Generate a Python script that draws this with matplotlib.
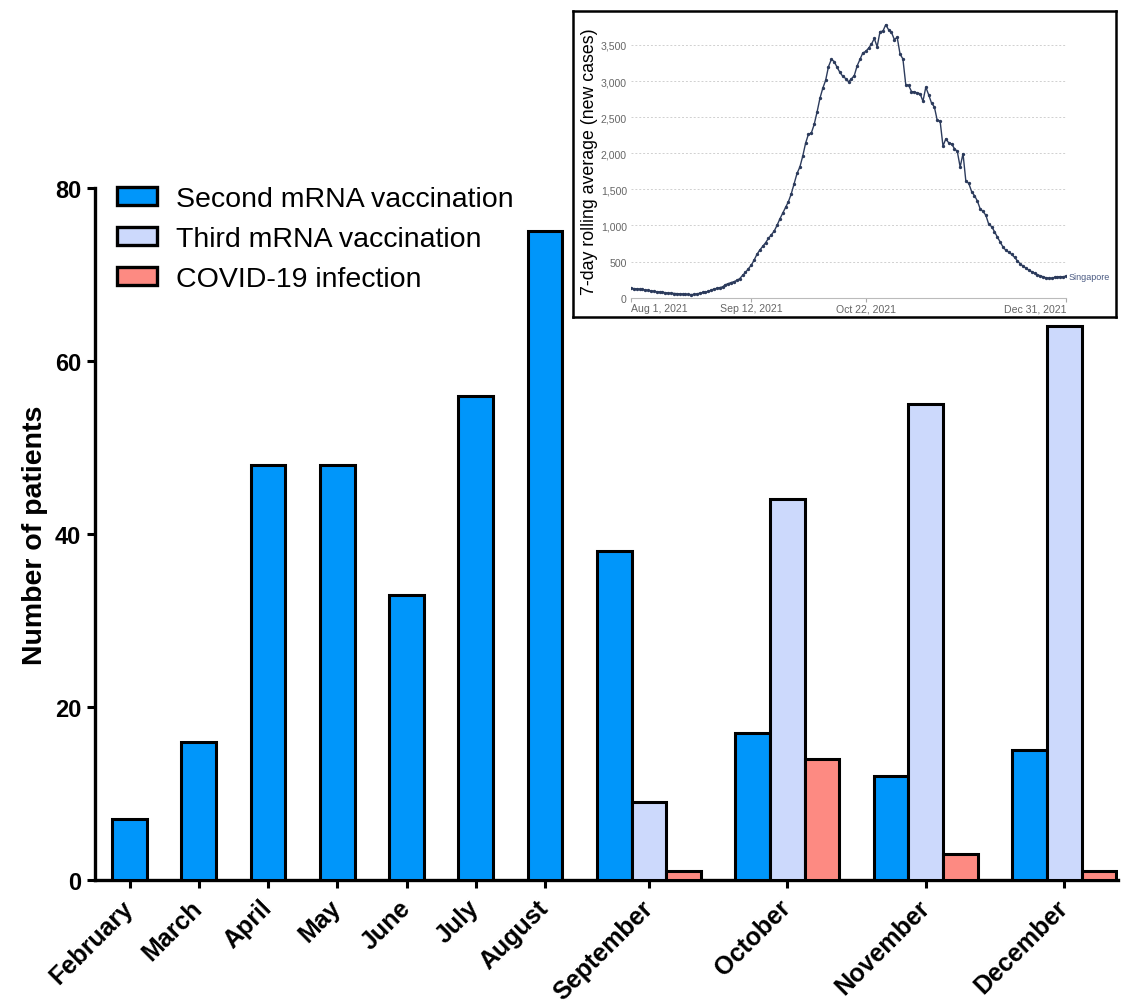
import numpy as np
import matplotlib.pyplot as plt

# main chart data
months = ["February", "March", "April", "May", "June", "July", "August",
          "September", "October", "November", "December"]
second_dose = [7, 16, 48, 48, 33, 56, 75, 38, 17, 12, 15]
# third dose and infections only counted from September on
third_dose = [9, 44, 55, 64]
infection = [1, 14, 3, 1]

# inset: Singapore 7-day rolling average, Aug 1 - Dec 31 2021 (daily)
cases = [130, 127, 123, 118, 114, 108, 101, 95, 88, 83,
         80, 75, 70, 65, 62, 58, 55, 52, 50, 47,
         45, 43, 45, 52, 62, 72, 80, 86, 105, 120,
         130, 140, 150, 180, 195, 210, 222, 240, 265, 310,
         350, 400, 450, 520, 600, 660, 710, 760, 820, 870,
         920, 1000, 1090, 1170, 1250, 1330, 1440, 1580, 1720, 1810,
         1960, 2140, 2265, 2280, 2400, 2570, 2760, 2900, 3010, 3200,
         3300, 3270, 3190, 3120, 3065, 3035, 2990, 3030, 3075, 3210,
         3300, 3390, 3410, 3455, 3510, 3590, 3475, 3685, 3690, 3780,
         3710, 3675, 3575, 3605, 3375, 3305, 2950, 2940, 2855, 2850,
         2835, 2825, 2720, 2915, 2810, 2695, 2640, 2455, 2445, 2100,
         2200, 2145, 2130, 2065, 2025, 1810, 1995, 1610, 1585, 1470,
         1415, 1340, 1230, 1195, 1140, 1015, 985, 915, 840, 770,
         700, 655, 630, 600, 560, 510, 470, 435, 410, 380,
         360, 340, 318, 304, 290, 276, 271, 270, 282, 290,
         292, 290, 300]
date_ticks = [0, 42, 82, 152]
date_labels = ["Aug 1, 2021", "Sep 12, 2021", "Oct 22, 2021", "Dec 31, 2021"]

FONT = ["Liberation Sans", "DejaVu Sans"]
plt.rcParams['font.family'] = FONT

c_second = "#0096fa"
c_third = "#ccd9fc"
c_inf = "#fd8a82"
lw = 2.2

fig = plt.figure(figsize=(11.25, 10.03), dpi=100)
ax = fig.add_axes([0.0844, 0.1216, 0.9093, 0.6899])

n_single = 7
n_group = len(months) - n_single
x_single = np.arange(n_single) * 2
x_group = 2 * n_single + np.arange(n_group) * 4
x_second = np.concatenate([x_single, x_group])

ax.bar(x_second, second_dose, width=1.0, color=c_second, edgecolor="black",
       linewidth=lw, label="Second mRNA vaccination", zorder=3)
ax.bar(x_group + 1, third_dose, width=1.0, color=c_third, edgecolor="black",
       linewidth=lw, label="Third mRNA vaccination", zorder=3)
ax.bar(x_group + 2, infection, width=1.0, color=c_inf, edgecolor="black",
       linewidth=lw, label="COVID-19 infection", zorder=3)

ax.set_xlim(-1.0, 28.55)
ax.set_ylim(0, 80)
ax.set_yticks([0, 20, 40, 60, 80])
ax.set_xticks(np.concatenate([x_single, x_group + 1]))
ax.set_xticklabels(months, rotation=45, ha="right", va="center",
                   rotation_mode="anchor", fontsize=18, fontweight="bold")
for lab in ax.get_yticklabels():
    lab.set_fontsize(17)
    lab.set_fontweight("bold")
ax.spines["top"].set_visible(False)
ax.spines["right"].set_visible(False)
ax.spines["left"].set_linewidth(2.4)
ax.spines["bottom"].set_linewidth(2.4)
ax.tick_params(axis="both", direction="out", length=6, width=2.2, pad=4)
ax.tick_params(axis="x", pad=11)
ax.set_ylabel("Number of patients", fontsize=20.5, fontweight="bold", labelpad=5)

leg = ax.legend(loc="upper left", bbox_to_anchor=(0.008, 1.024), frameon=False,
                fontsize=20.5, handlelength=1.4, handleheight=0.6,
                handletextpad=0.65, labelspacing=0.5, borderpad=0)
for h in leg.legend_handles:
    h.set_linewidth(2.4)

# inset screenshot frame
frame = fig.add_axes([0.5093, 0.6830, 0.4827, 0.3051])
frame.set_facecolor("white")
frame.set_xticks([])
frame.set_yticks([])
for s in frame.spines.values():
    s.set_linewidth(1.8)
    s.set_color("black")

ins = fig.add_axes([0.5609, 0.7022, 0.3867, 0.2736])
ins.patch.set_alpha(0)
days = np.arange(len(cases))
ins.plot(days, cases, color="#2c3b5c", lw=1.0, marker="o", markersize=1.4,
         zorder=3)
ins.set_xlim(0, 152)
ins.set_ylim(0, 3800)
ins.set_yticks(np.arange(0, 3501, 500))
ins.set_yticklabels(["0"] + ["{:,}".format(v) for v in range(500, 3501, 500)],
                    fontsize=7.6, color="#666666")
for v in range(500, 3501, 500):
    ins.axhline(v, color="#d0d0d0", lw=0.7, ls=(0, (2, 2)), zorder=1)
ins.set_xticks(date_ticks)
ins.set_xticklabels(date_labels, fontsize=7.6, color="#666666")
xl = ins.get_xticklabels()
xl[0].set_ha("left")
xl[-1].set_ha("right")
ins.tick_params(axis="y", length=0, pad=3)
ins.tick_params(axis="x", length=3, color="#aaaaaa", pad=1)
for s in ["top", "right", "left"]:
    ins.spines[s].set_visible(False)
ins.spines["bottom"].set_color("#bbbbbb")
ins.spines["bottom"].set_linewidth(0.8)
ins.set_ylabel("7-day rolling average (new cases)", fontsize=12.8, labelpad=2)
ins.text(153, cases[-1], "Singapore", fontsize=6.5, color="#4a5a82",
         va="center", ha="left", clip_on=False)

fig.savefig("out.png", dpi=100)
